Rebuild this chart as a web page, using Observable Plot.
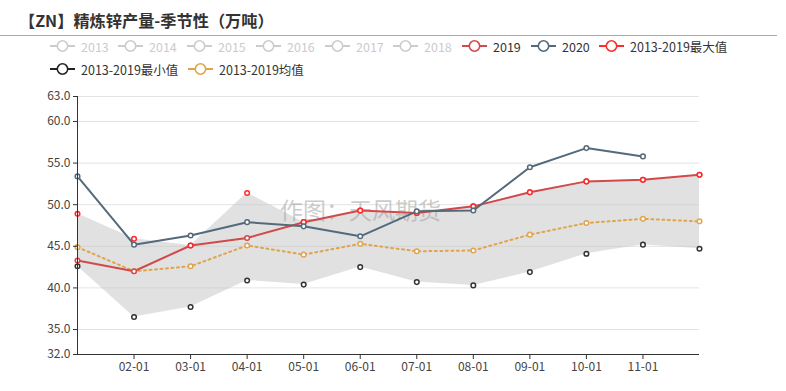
<!DOCTYPE html>
<html>
<head>
<meta charset="utf-8">
<script src="https://cdn.jsdelivr.net/npm/d3@7"></script>
<script src="https://cdn.jsdelivr.net/npm/@observablehq/plot@0.6"></script>
<style>
  html, body { margin: 0; padding: 0; background: #fff; }
  body { width: 786px; height: 391px; overflow: hidden; font-family: "Noto Sans CJK SC", "Noto Sans", sans-serif; }
  #header { position: relative; width: 786px; height: 82px; }
  #title { position: absolute; left: 19px; top: 8px; font-size: 16.2px; font-weight: bold; color: #333; line-height: 24px; white-space: nowrap; }
  #rule { position: absolute; left: 0; top: 35px; width: 777px; height: 1px; background: #aaa; }
  .leg { position: absolute; height: 14px; display: flex; align-items: center; font-size: 12.5px; white-space: nowrap; }
  .leg svg { margin-right: 6px; }
  #chart svg { display: block; }
</style>
</head>
<body>
<div id="header">
  <div id="title">【ZN】精炼锌产量-季节性（万吨）</div>
  <div id="rule"></div>
</div>
<div id="chart"></div>
<script>
const title = "【ZN】精炼锌产量-季节性（万吨）";
const months = [1, 2, 3, 4, 5, 6, 7, 8, 9, 10, 11, 12];
const xTickMonths = [2, 3, 4, 5, 6, 7, 8, 9, 10, 11];
const yTicks = [32, 35, 40, 45, 50, 55, 60, 63];
const y2019 = [43.3, 42.0, 45.1, 46.0, 47.9, 49.3, 49.0, 49.8, 51.5, 52.8, 53.0, 53.6];
const y2020 = [53.4, 45.2, 46.3, 47.9, 47.4, 46.2, 49.2, 49.3, 54.5, 56.8, 55.8];
const yMax = [48.9, 45.9, 45.1, 51.4, 47.9, 49.3, 49.0, 49.8, 51.5, 52.8, 53.0, 53.6];
const yMin = [42.6, 36.5, 37.7, 40.9, 40.4, 42.5, 40.7, 40.3, 41.9, 44.1, 45.2, 44.7];
const yAvg = [44.9, 42.0, 42.6, 45.1, 44.0, 45.3, 44.4, 44.5, 46.4, 47.8, 48.3, 48.0];
const legendItems = [
  {name: "2013", color: "#ccc", off: true, row: 0, x: 50},
  {name: "2014", color: "#ccc", off: true, row: 0, x: 118},
  {name: "2015", color: "#ccc", off: true, row: 0, x: 187},
  {name: "2016", color: "#ccc", off: true, row: 0, x: 256},
  {name: "2017", color: "#ccc", off: true, row: 0, x: 325},
  {name: "2018", color: "#ccc", off: true, row: 0, x: 393},
  {name: "2019", color: "#d14a4a", off: false, row: 0, x: 462},
  {name: "2020", color: "#546a7b", off: false, row: 0, x: 531},
  {name: "2013-2019最大值", color: "#ff2a2a", off: false, row: 0, x: 599},
  {name: "2013-2019最小值", color: "#222", off: false, row: 1, x: 50},
  {name: "2013-2019均值", color: "#e0a54c", off: false, row: 1, x: 188}
];

const header = document.getElementById("header");
for (const it of legendItems) {
  const d = document.createElement("div");
  d.className = "leg";
  d.style.left = it.x + "px";
  d.style.top = (it.row === 0 ? 39 : 62) + "px";
  d.style.color = it.off ? "#ccc" : "#333";
  d.innerHTML = `<svg width="25" height="14"><line x1="0" y1="7" x2="25" y2="7" stroke="${it.color}" stroke-width="2"/><circle cx="12.5" cy="7" r="5.2" fill="#fff" stroke="${it.color}" stroke-width="1.6"/></svg><span>${it.name}</span>`;
  header.appendChild(d);
}

const band = months.map((m, i) => ({m, lo: yMin[i], hi: yMax[i]}));
const s2019 = months.map((m, i) => ({m, v: y2019[i]}));
const s2020 = y2020.map((v, i) => ({m: months[i], v}));
const sMax = months.map((m, i) => ({m, v: yMax[i]}));
const sMin = months.map((m, i) => ({m, v: yMin[i]}));
const sAvg = months.map((m, i) => ({m, v: yAvg[i]}));

const fam = '"Noto Sans CJK SC", "Noto Sans", sans-serif';
const chart = Plot.plot({
  width: 786,
  height: 309,
  marginTop: 14,
  marginBottom: 37,
  marginLeft: 77,
  marginRight: 87,
  style: {fontSize: "12px", fontFamily: fam, color: "#333", background: "#fff"},
  x: {type: "linear", domain: [1, 12]},
  y: {domain: [32, 63]},
  marks: [
    Plot.ruleY(yTicks.filter(t => t > 32), {stroke: "#e3e3e3", strokeWidth: 1}),
    Plot.areaY(band, {x: "m", y1: "lo", y2: "hi", fill: "#c4c4c4", fillOpacity: 0.5}),
    Plot.text([title], {frameAnchor: "middle", dx: -28, dy: -14, text: () => "作图：天风期货", fontSize: 23, fill: "#999", fillOpacity: 0.5}),
    Plot.line(sAvg, {x: "m", y: "v", stroke: "#e0a54c", strokeWidth: 2, strokeDasharray: "2,3.5"}),
    Plot.line(s2019, {x: "m", y: "v", stroke: "#d14a4a", strokeWidth: 2}),
    Plot.line(s2020, {x: "m", y: "v", stroke: "#546a7b", strokeWidth: 2}),
    Plot.dot(sMin, {x: "m", y: "v", r: 2.3, fill: "#fff", stroke: "#333", strokeWidth: 1.5}),
    Plot.dot(sAvg, {x: "m", y: "v", r: 2.3, fill: "#fff", stroke: "#e0a54c", strokeWidth: 1.5}),
    Plot.dot(s2019, {x: "m", y: "v", r: 2.3, fill: "#fff", stroke: "#d14a4a", strokeWidth: 1.5}),
    Plot.dot(sMax, {x: "m", y: "v", r: 2.3, fill: "#fff", stroke: "#ff2a2a", strokeWidth: 1.5}),
    Plot.dot(s2020, {x: "m", y: "v", r: 2.3, fill: "#fff", stroke: "#546a7b", strokeWidth: 1.5}),
    Plot.axisY({ticks: yTicks, tickFormat: d => d.toFixed(1), tickSize: 4, tickPadding: 3, label: null, fill: "#444"}),
    Plot.axisX({ticks: xTickMonths, tickFormat: d => String(d).padStart(2, "0") + "-01", tickSize: 5, tickPadding: 3, label: null, fill: "#444"}),
    Plot.ruleX([1], {stroke: "#333", strokeWidth: 1}),
    Plot.ruleY([32], {stroke: "#333", strokeWidth: 1})
  ]
});
document.getElementById("chart").appendChild(chart);
</script>
</body>
</html>
